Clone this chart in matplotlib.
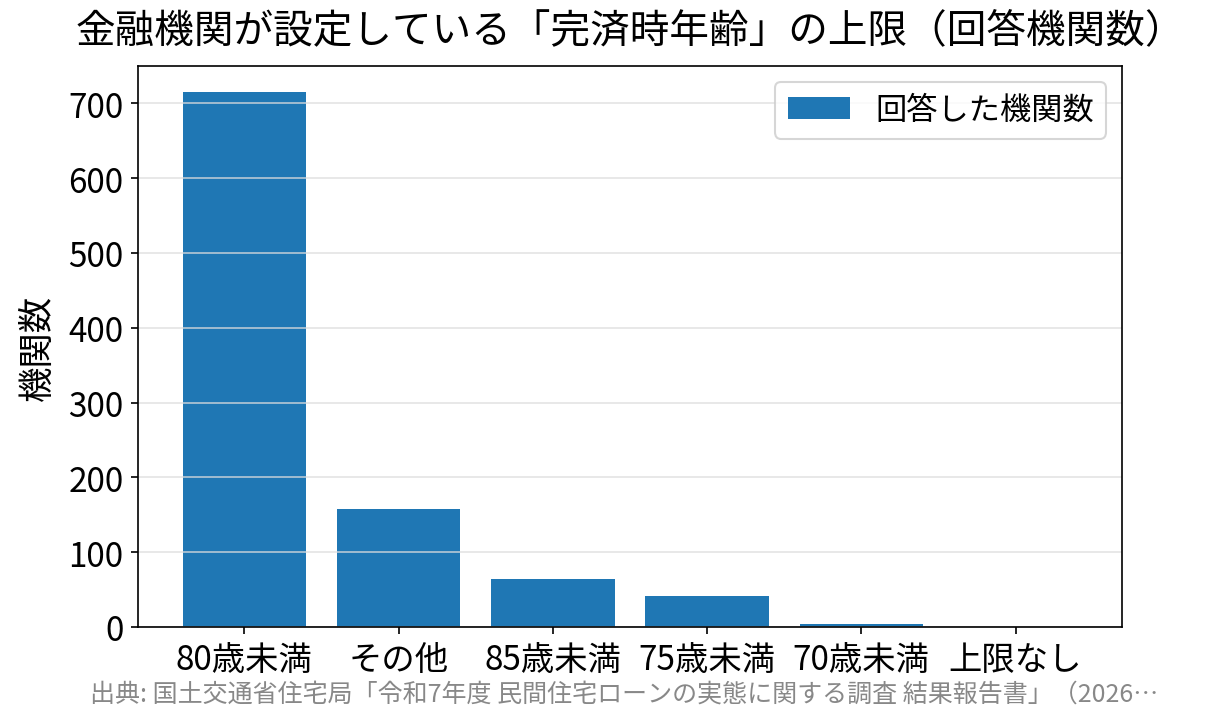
import matplotlib
matplotlib.use("Agg")
import matplotlib.pyplot as plt

plt.rcParams['font.family'] = ['Noto Sans CJK JP', 'DejaVu Sans']

# data
categories = ["80歳未満", "その他", "85歳未満", "75歳未満", "70歳未満", "上限なし"]
counts = [715, 158, 64, 42, 4, 0]

title = "金融機関が設定している「完済時年齢」の上限（回答機関数）"
source = "出典: 国土交通省住宅局「令和7年度 民間住宅ローンの実態に関する調査 結果報告書」（2026…"

fig = plt.figure(figsize=(8.04, 4.833), dpi=150)
ax = fig.add_axes([138 / 1206, 1 - 628 / 725, (1122 - 138) / 1206, (628 - 67) / 725])

ax.bar(categories, counts, color="#1f77b4", width=0.8, label="回答した機関数")
ax.grid(axis="y", color="#dddddd", linewidth=0.8, alpha=0.8)
ax.set_ylim(0, 750)
ax.set_yticks(range(0, 701, 100))
ax.tick_params(labelsize=16)
ax.set_ylabel("機関数", fontsize=17, labelpad=6)
ax.set_title(title, fontsize=19, pad=12)
ax.legend(fontsize=15, loc="upper right")

fig.text(90 / 1206, 1 - 695 / 725, source, fontsize=12, color="#888888", va="center")

fig.savefig("out.png", dpi=150)
